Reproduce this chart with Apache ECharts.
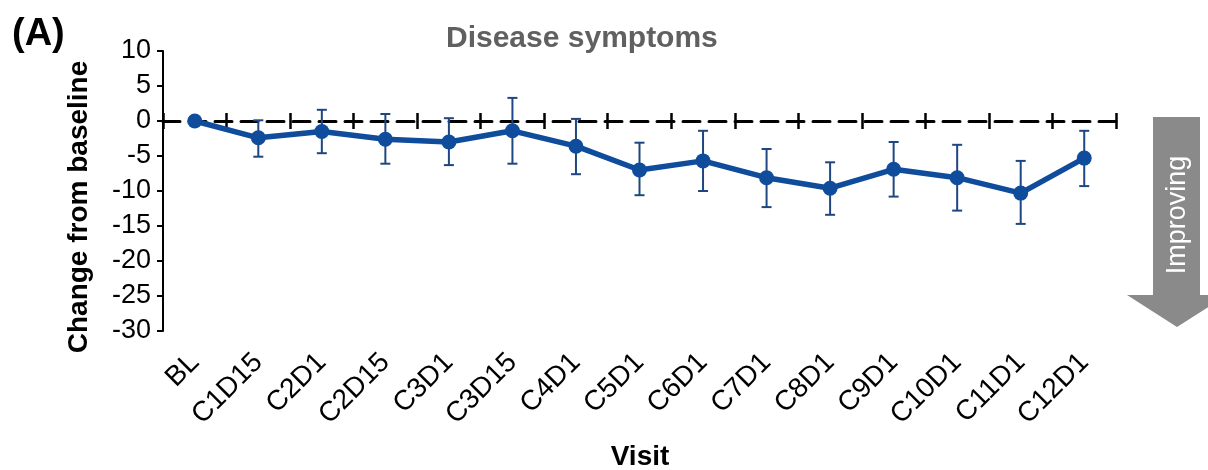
<!DOCTYPE html>
<html>
<head>
<meta charset="utf-8">
<script src="https://cdn.jsdelivr.net/npm/echarts@6/dist/echarts.min.js"></script>
<style>html,body{margin:0;padding:0;background:#fff}#c{width:1208px;height:470px}</style>
</head>
<body>
<div id="c"></div>
<script>
const visits = ['BL','C1D15','C2D1','C2D15','C3D1','C3D15','C4D1','C5D1','C6D1','C7D1','C8D1','C9D1','C10D1','C11D1','C12D1'];
const meanChange = [0, -2.4, -1.5, -2.6, -3.0, -1.4, -3.6, -7.0, -5.7, -8.1, -9.6, -6.9, -8.1, -10.3, -5.3];
const errLow =  [0, -5.1, -4.6, -6.1, -6.3, -6.1, -7.6, -10.6, -10.0, -12.3, -13.4, -10.8, -12.8, -14.7, -9.3];
const errHigh = [0,  0.1,  1.6,  1.0,  0.4,  3.3,  0.3,  -3.1,  -1.4,  -4.0,  -5.9,  -3.0,  -3.4,  -5.7, -1.4];
const yTicks = {min: -30, max: 10, interval: 5};

const FONT = "'Liberation Sans', Arial, sans-serif";
const LINE_COLOR = '#0f4c9c';
const ERR_COLOR = '#1e4782';

const errData = visits.map((v, i) => [i, errLow[i], errHigh[i]]).filter(d => d[1] !== d[2]);

const chart = echarts.init(document.getElementById('c'), null, {renderer: 'canvas'});
chart.setOption({
  animation: false,
  backgroundColor: '#ffffff',
  title: {
    text: 'Disease symptoms',
    left: 441, top: 19,
    textStyle: {fontFamily: FONT, fontSize: 30, fontWeight: 'bold', color: '#606060'}
  },
  grid: {left: 163, right: 92, top: 51, bottom: 139, containLabel: false},
  xAxis: [
    {
      type: 'category', data: visits, position: 'bottom', boundaryGap: true,
      axisLine: {show: true, onZero: true, onZeroAxisIndex: 0, lineStyle: {color: '#000', width: 3, type: [17, 9]}},
      axisTick: {show: true, alignWithLabel: false, length: 8, lineStyle: {color: '#000', width: 2.5}},
      axisLabel: {show: false}, splitLine: {show: false}
    },
    {
      type: 'category', data: visits, position: 'top', boundaryGap: true,
      axisLine: {show: false, onZero: true, onZeroAxisIndex: 1},
      axisTick: {show: true, length: 8, lineStyle: {color: '#000', width: 2.5}},
      axisLabel: {show: false}, splitLine: {show: false}
    },
    {
      type: 'category', data: visits, position: 'bottom', boundaryGap: true,
      axisLine: {show: false, onZero: false},
      axisTick: {show: false},
      axisLabel: {show: true, rotate: 45, margin: 27, interval: 0, fontFamily: FONT, fontSize: 28, color: '#000'},
      splitLine: {show: false}
    }
  ],
  yAxis: [
    {
      type: 'value', min: yTicks.min, max: yTicks.max, interval: yTicks.interval,
      axisLine: {show: true, onZero: false, lineStyle: {color: '#000', width: 2}},
      axisTick: {show: true, length: 6, lineStyle: {color: '#000', width: 2}},
      axisLabel: {fontFamily: FONT, fontSize: 27, color: '#000', margin: 12},
      splitLine: {show: false}
    },
    {
      type: 'value', min: yTicks.min, max: yTicks.max, interval: yTicks.interval, position: 'left',
      axisLine: {show: false, onZero: false}, axisTick: {show: false}, axisLabel: {show: false}, splitLine: {show: false}
    }
  ],
  series: [
    {
      type: 'custom', name: 'error', xAxisIndex: 0, yAxisIndex: 0, z: 3,
      data: errData,
      renderItem: function (params, api) {
        const x = api.value(0);
        const lo = api.coord([x, api.value(1)]);
        const hi = api.coord([x, api.value(2)]);
        const cap = 5;
        const st = {stroke: ERR_COLOR, lineWidth: 2};
        return {
          type: 'group',
          children: [
            {type: 'line', shape: {x1: lo[0], y1: lo[1], x2: hi[0], y2: hi[1]}, style: st},
            {type: 'line', shape: {x1: lo[0] - cap, y1: lo[1], x2: lo[0] + cap, y2: lo[1]}, style: st},
            {type: 'line', shape: {x1: hi[0] - cap, y1: hi[1], x2: hi[0] + cap, y2: hi[1]}, style: st}
          ]
        };
      }
    },
    {
      type: 'line', name: 'Disease symptoms', xAxisIndex: 0, yAxisIndex: 0, z: 4,
      data: meanChange,
      symbol: 'circle', symbolSize: 15,
      lineStyle: {color: LINE_COLOR, width: 5.5},
      itemStyle: {color: LINE_COLOR}
    }
  ],
  graphic: [
    {type: 'text', left: 12, top: 16, style: {text: '(A)', fontFamily: FONT, fontSize: 38, fontWeight: 'bold', fill: '#000'}},
    {type: 'text', x: 79, y: 207, rotation: Math.PI / 2,
      style: {text: 'Change from baseline', fontFamily: FONT, fontSize: 28, fontWeight: 'bold', fill: '#000', align: 'center', verticalAlign: 'middle'}},
    {type: 'text', x: 640, y: 457,
      style: {text: 'Visit', fontFamily: FONT, fontSize: 28, fontWeight: 'bold', fill: '#000', align: 'center', verticalAlign: 'middle'}},
    {type: 'rect', shape: {x: 1153, y: 117, width: 47, height: 179}, style: {fill: '#8a8a8a'}},
    {type: 'polygon', shape: {points: [[1127, 295], [1227, 295], [1177, 327]]}, style: {fill: '#8a8a8a'}},
    {type: 'text', x: 1178, y: 215, rotation: Math.PI / 2,
      style: {text: 'Improving', fontFamily: FONT, fontSize: 27, fill: '#ffffff', align: 'center', verticalAlign: 'middle'}}
  ]
});
</script>
</body>
</html>
